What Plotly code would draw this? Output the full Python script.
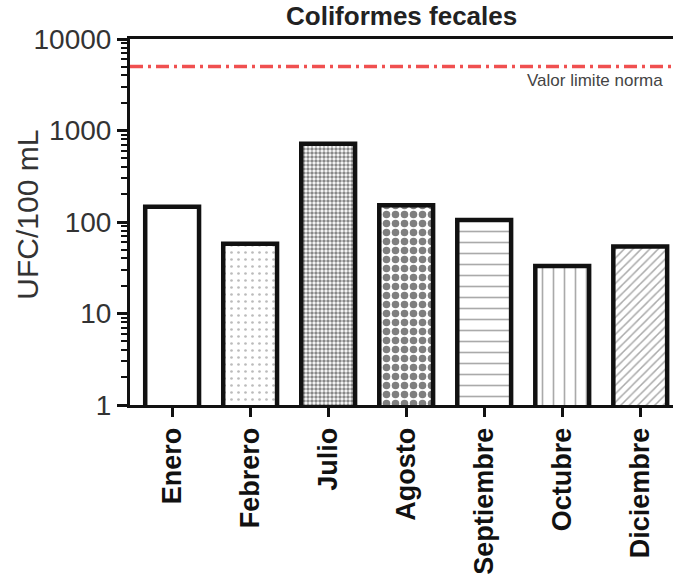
import plotly.graph_objects as go

months = ["Enero", "Febrero", "Julio", "Agosto", "Septiembre", "Octubre", "Diciembre"]
ufc = [147, 58, 715, 152, 105, 33, 54]
limit_value = 5000
limit_label = "Valor limite norma"
y_tick_vals = [1, 10, 100, 1000, 10000]
y_tick_text = ["1", "10", "100", "1000", "10000"]

pat_shapes = ["", ".", ".", ".", "-", "|", "/"]
pat_sizes = [8, 7, 4, 9, 11, 11, 6]
pat_solid = [0.2, 0.12, 0.6, 0.55, 0.15, 0.15, 0.25]
pat_fg = ["#000", "#777", "#111", "#000", "#555", "#555", "#555"]

FONT = "Liberation Sans"

fig = go.Figure()
fig.add_trace(go.Bar(
    x=months, y=ufc, width=0.69,
    marker=dict(
        color="white",
        line=dict(color="#111", width=4.5),
        pattern=dict(shape=pat_shapes, size=pat_sizes, solidity=pat_solid,
                     fgcolor=pat_fg, bgcolor="white", fillmode="overlay"),
    ),
    showlegend=False,
))

fig.add_shape(type="line", xref="paper", x0=0, x1=1, yref="y", y0=limit_value, y1=limit_value,
              line=dict(color="#f05050", width=3.5, dash="13px,5px,3px,5px"))

fig.add_annotation(text=limit_label, xref="paper", x=0.985, xanchor="right",
                   yref="y", y=3.699, yshift=-14, yanchor="middle", showarrow=False,
                   font=dict(family=FONT, size=17, color="#444"))

fig.add_annotation(text="Coliformes fecales", xref="paper", x=0.5, xanchor="center",
                   yref="paper", y=(405 - 16) / 366, yanchor="middle", showarrow=False,
                   font=dict(family=FONT, size=26, color="#222", weight="bold"))

fig.add_annotation(text="UFC/100 mL", xref="paper", x=0, xshift=-102, xanchor="center",
                   yref="paper", y=0.52, yanchor="middle", textangle=-90, showarrow=False,
                   font=dict(family=FONT, size=30, color="#333"))

fig.update_layout(
    width=673, height=575,
    margin=dict(l=130, r=0, t=39, b=170),
    plot_bgcolor="white", paper_bgcolor="white",
    bargap=0.3,
    xaxis=dict(
        range=[-0.54, 6.42], showline=True, linecolor="#111", linewidth=3, mirror=True,
        ticks="outside", ticklen=9, tickwidth=2.5, tickcolor="#111",
        tickangle=-90, tickfont=dict(family=FONT, size=27, color="#111", weight="bold"),
        showgrid=False, zeroline=False,
    ),
    yaxis=dict(
        type="log", range=[0, 4], showline=True, linecolor="#111", linewidth=3,
        ticks="outside", ticklen=10, tickwidth=2.5, tickcolor="#111",
        tickvals=y_tick_vals, ticktext=y_tick_text,
        tickfont=dict(family=FONT, size=28, color="#333"),
        minor=dict(ticks="outside", ticklen=6, tickwidth=2, tickcolor="#111",
                   dtick="D1", showgrid=False),
        showgrid=False, zeroline=False,
    ),
)

fig.write_html("out.html")
